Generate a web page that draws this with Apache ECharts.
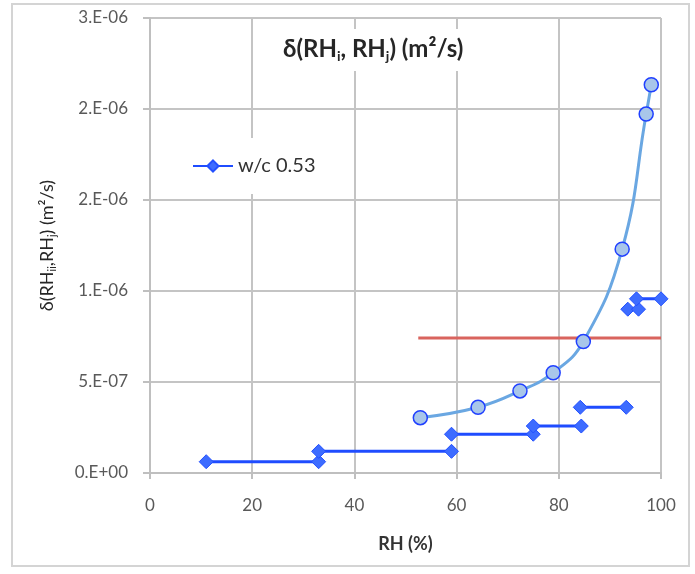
<!DOCTYPE html>
<html>
<head>
<meta charset="utf-8">
<script src="https://cdn.jsdelivr.net/npm/echarts@6/dist/echarts.min.js"></script>
<style>
html,body{margin:0;padding:0;background:#fff;}
#chart{width:695px;height:574px;}
</style>
</head>
<body>
<div id="chart"></div>
<script>
// Smooth curve: delta(RH) evaluated at mean RH
const curveRH = [52.9, 64.2, 72.4, 78.9, 84.8, 92.4, 97.1, 98.1];
const curveDelta = [3.04e-7, 3.61e-7, 4.51e-7, 5.51e-7, 7.22e-7, 1.23e-6, 1.972e-6, 2.133e-6];

// Step segments w/c 0.53: RH_i -> RH_j with constant delta
const stepRHi = [11, 33, 59, 75, 84.2, 93.5, 95.2];
const stepRHj = [33, 59, 75, 84.4, 93.2, 95.6, 100];
const stepDelta = [6.2e-8, 1.19e-7, 2.13e-7, 2.58e-7, 3.61e-7, 9.0e-7, 9.57e-7];

// Reference (red) line
const refRH = [52.5, 100];
const refDelta = [7.42e-7, 7.42e-7];

// Tick labels
const xTickLabels = ['0', '20', '40', '60', '80', '100'];
const yTickLabels = ['0.E+00', '5.E-07', '1.E-06', '2.E-06', '2.E-06', '3.E-06'];

const legendName = 'w/c 0.53';
const FONT = 'Lato';

const chart = echarts.init(document.getElementById('chart'), null, {renderer: 'canvas'});

const series = [];
series.push({
  name: 'ref',
  type: 'line',
  data: refRH.map((x, i) => [x, refDelta[i]]),
  symbol: 'none',
  lineStyle: {color: '#d9645e', width: 3},
  z: 2,
  silent: true
});
for (let i = 0; i < stepRHi.length; i++) {
  series.push({
    name: legendName,
    type: 'line',
    data: [[stepRHi[i], stepDelta[i]], [stepRHj[i], stepDelta[i]]],
    symbol: 'diamond',
    symbolSize: 14,
    showSymbol: true,
    itemStyle: {color: '#3d6cff', borderColor: '#2350ff', borderWidth: 1},
    lineStyle: {color: '#1f4cff', width: 3},
    z: 3
  });
}
series.push({
  name: 'curve',
  type: 'line',
  data: curveRH.map((x, i) => [x, curveDelta[i]]),
  smooth: 0.45,
  symbol: 'circle',
  symbolSize: 14,
  itemStyle: {color: '#a8c6ea', borderColor: '#2040ff', borderWidth: 1.5},
  lineStyle: {color: '#6aa7e2', width: 3},
  z: 4
});

const option = {
  animation: false,
  backgroundColor: '#fff',
  textStyle: {fontFamily: FONT},
  graphic: [{
    type: 'rect',
    shape: {x: 12, y: 4, width: 677, height: 562},
    style: {fill: 'none', stroke: '#d4d4d4', lineWidth: 2},
    z: -10
  }],
  title: {
    text: '{m|δ(RH}{s|i}{m|, RH}{s|j}{m|) (m²/s)}',
    left: 273,
    top: 27,
    backgroundColor: '#fff',
    padding: [8, 10, 8, 10],
    textStyle: {
      fontFamily: FONT, fontSize: 24, fontWeight: 'bold', color: '#262626',
      rich: {
        m: {fontFamily: FONT, fontSize: 24, fontWeight: 'bold', color: '#262626', lineHeight: 28},
        s: {fontFamily: FONT, fontSize: 14, fontWeight: 'bold', color: '#262626', verticalAlign: 'bottom', lineHeight: 17}
      }
    }
  },
  legend: {
    data: [legendName],
    left: 180,
    top: 138,
    orient: 'vertical',
    backgroundColor: '#fff',
    padding: [18, 30, 18, 12],
    itemWidth: 40,
    itemHeight: 14,
    textStyle: {fontFamily: FONT, fontSize: 20, color: '#333'}
  },
  grid: {left: 150, right: 34, top: 18, bottom: 101, containLabel: false, outerBoundsMode: 'none'},
  xAxis: {
    type: 'value',
    min: 0,
    max: 100,
    interval: 20,
    name: 'RH (%)',
    nameLocation: 'middle',
    nameGap: 62,
    nameTextStyle: {fontFamily: FONT, fontSize: 18, fontWeight: 'bold', color: '#333'},
    axisLine: {show: true, onZero: false, lineStyle: {color: '#bfbfbf', width: 2}},
    axisTick: {show: true, length: 6, lineStyle: {color: '#bfbfbf', width: 2}},
    axisLabel: {
      margin: 24,
      fontFamily: FONT, fontSize: 17, color: '#595959',
      formatter: (v, i) => xTickLabels[i]
    },
    splitLine: {show: true, lineStyle: {color: '#c4c4c4', width: 2}}
  },
  yAxis: {
    type: 'value',
    min: 0,
    max: 2.5e-6,
    interval: 5e-7,
    name: '{m|δ(RH}{s|ii}{m|,RH}{s|j}{m|) (m²/s)}',
    nameLocation: 'middle',
    nameGap: 92,
    nameRotate: 90,
    nameTextStyle: {
      fontFamily: FONT, fontSize: 18, color: '#262626',
      rich: {
        m: {fontFamily: FONT, fontSize: 18, color: '#262626', lineHeight: 22},
        s: {fontFamily: FONT, fontSize: 11, color: '#262626', verticalAlign: 'bottom', lineHeight: 14}
      }
    },
    axisLine: {show: true, lineStyle: {color: '#bfbfbf', width: 2}},
    axisTick: {show: true, length: 7, lineStyle: {color: '#bfbfbf', width: 2}},
    axisLabel: {
      margin: 22,
      fontFamily: FONT, fontSize: 17, color: '#595959',
      formatter: (v, i) => yTickLabels[i]
    },
    splitLine: {show: true, lineStyle: {color: '#c4c4c4', width: 2}}
  },
  series: series
};
chart.setOption(option);
</script>
</body>
</html>
